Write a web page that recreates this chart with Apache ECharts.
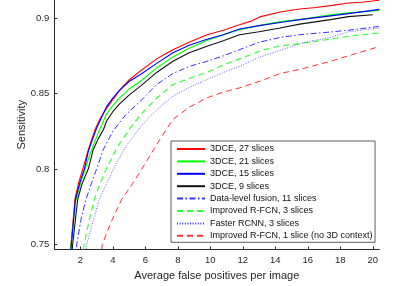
<!DOCTYPE html>
<html><head><meta charset="utf-8">
<script src="https://cdn.jsdelivr.net/npm/echarts@6/dist/echarts.min.js"></script>
<style>html,body{margin:0;padding:0;background:#fff}#c{width:419px;height:286px}</style>
</head><body><div id="c"></div>
<script>
const names = ["3DCE, 27 slices","3DCE, 21 slices","3DCE, 15 slices","3DCE, 9 slices","Data-level fusion, 11 slices","Improved R-FCN, 3 slices","Faster RCNN, 3 slices","Improved R-FCN, 1 slice (no 3D context)"];
const xTicks = [2,4,6,8,10,12,14,16,18,20];
const yTicks = [0.75,0.8,0.85,0.9];

const x27 = [1.33,1.43,1.67,1.9,2.15,2.5,2.9,3.25,3.6,4.0,4.4,5.0,5.7,6.2,6.7,7.2,7.7,8.7,9.8,10.8,11.8,12.5,13.1,14.3,15.5,16.5,17.4,18.5,19.3,20.4];
const y27 = [0.740,0.750,0.780,0.791,0.800,0.813,0.826,0.834,0.840,0.846,0.852,0.859,0.865,0.869,0.873,0.876,0.879,0.884,0.889,0.892,0.8956,0.898,0.901,0.904,0.906,0.907,0.9083,0.910,0.9105,0.9118];
const x21 = [1.33,1.43,1.7,2.0,2.3,2.6,3.1,3.6,4.0,4.4,5.0,5.7,6.7,7.7,8.7,9.8,10.8,11.8,13,14.3,15.5,17.4,18.5,20.4];
const y21 = [0.74,0.75,0.778,0.79,0.80,0.81,0.824,0.8362,0.842,0.847,0.853,0.8582,0.867,0.8743,0.880,0.8852,0.889,0.8923,0.895,0.8978,0.899,0.9022,0.9035,0.905];
const x15 = [1.35,1.45,1.7,2.0,2.25,2.5,3.0,3.6,4.0,4.4,5.0,5.7,6.7,7.7,8.7,9.8,10.8,11.8,13,14.3,15.5,17.4,18.5,20.4];
const y15 = [0.74,0.75,0.78,0.792,0.80,0.812,0.827,0.841,0.847,0.852,0.858,0.8626,0.870,0.877,0.882,0.886,0.889,0.8928,0.895,0.8971,0.899,0.9015,0.903,0.9058];
const x9 = [1.45,1.53,1.84,2.1,2.49,2.8,3.1,3.42,3.62,4.0,4.4,5.0,5.7,6.7,7.7,8.7,9.8,10.8,11.8,13,14.3,15.5,17.4,18.5,20.0];
const y9 = [0.74,0.75,0.78,0.79,0.80,0.813,0.82,0.826,0.8318,0.838,0.843,0.849,0.8549,0.864,0.8714,0.877,0.8813,0.885,0.889,0.891,0.8934,0.896,0.899,0.901,0.9022];
const xDL = [1.7,1.78,2.05,2.35,2.7,3.0,3.42,4.0,4.8,5.7,6.7,7.7,8.7,9.8,10.8,11.8,13,14.3,15.5,17.4,18.5,20.4];
const yDL = [0.74,0.75,0.767,0.78,0.791,0.80,0.813,0.825,0.836,0.845,0.856,0.8633,0.868,0.8714,0.875,0.8791,0.884,0.8872,0.889,0.8908,0.892,0.8945];
const xIR3 = [2.15,2.23,2.55,2.86,3.2,3.6,4.3,5.0,5.7,6.7,7.7,8.7,9.8,10.8,11.8,13,14.3,15.5,17.4,18.5,20.4];
const yIR3 = [0.74,0.75,0.766,0.78,0.79,0.80,0.815,0.826,0.836,0.847,0.856,0.860,0.8641,0.869,0.873,0.878,0.8817,0.883,0.8861,0.888,0.8902];
const xFR = [2.3,2.39,2.8,3.17,3.6,4.03,4.8,5.7,6.3,7.0,7.7,8.7,9.8,10.8,11.8,13,14.3,15.8,17.4,18.5,20.4];
const yFR = [0.74,0.75,0.766,0.78,0.79,0.80,0.815,0.828,0.835,0.842,0.8483,0.854,0.8593,0.864,0.8681,0.874,0.8786,0.884,0.8872,0.891,0.8935];
const xIR1 = [3.25,3.35,3.9,4.55,5.2,5.78,6.9,7.7,8.7,9.8,10.8,11.8,13,14.3,15.5,17.4,18.5,20.4];
const yIR1 = [0.74,0.75,0.765,0.78,0.79,0.80,0.8197,0.8329,0.841,0.8472,0.851,0.8538,0.858,0.8633,0.866,0.8714,0.875,0.8812];

const xs = [x27,x21,x15,x9,xDL,xIR3,xFR,xIR1];
const ys = [y27,y21,y15,y9,yDL,yIR3,yFR,yIR1];
const colors = ['#ff0000','#00ff00','#0000ff','#111111','#0000ff','#00ff00','#0000ff','#ff0000'];
const types = ['solid','solid','solid','solid',[6,2.5,1.5,2.5],[6,4],[1,1.6],[6,4]];
const widths = [1.1,1.1,1.1,1.1,1,1.1,0.8,1];

const series = names.map((n,i)=>({
  name:n, type:'line', symbol:'none', clip:true, smooth:false,
  data: xs[i].map((x,j)=>[x, ys[i][j]]),
  lineStyle:{color:colors[i], width:widths[i], type:types[i], opacity: i>=4?0.8:1},
  itemStyle:{color:colors[i]}
}));

const chart = echarts.init(document.getElementById('c'), null, {renderer:'canvas'});
const axisCol = '#262626';
const ff = 'Liberation Sans, Arial, sans-serif';
chart.setOption({
  animation:false,
  backgroundColor:'#fff',
  textStyle:{fontFamily:ff},
  grid:{left:54.3, top:0, width:325, height:250.7, containLabel:false},
  xAxis:{type:'value', min:0.4, max:20.4,
    name:'Average false positives per image', nameLocation:'middle', nameGap:20.5, nameMoveOverlap:false,
    nameTextStyle:{fontSize:11, color:axisCol, fontFamily:ff},
    axisLine:{show:true, onZero:false, lineStyle:{color:axisCol, width:1}},
    axisTick:{show:true, inside:true, length:3, customValues:xTicks, lineStyle:{color:axisCol}},
    axisLabel:{customValues:xTicks, fontSize:9.5, color:axisCol, margin:6, fontFamily:ff},
    splitLine:{show:false}},
  yAxis:{type:'value', min:0.7467, max:0.912,
    name:'Sensitivity', nameLocation:'middle', nameGap:27, nameRotate:90, nameMoveOverlap:false,
    nameTextStyle:{fontSize:11, color:axisCol, fontFamily:ff},
    axisLine:{show:true, onZero:false, lineStyle:{color:axisCol, width:1}},
    axisTick:{show:true, inside:true, length:3, customValues:yTicks, lineStyle:{color:axisCol}},
    axisLabel:{customValues:yTicks, fontSize:9.5, color:axisCol, margin:5, fontFamily:ff},
    splitLine:{show:false}},
  legend:{orient:'vertical', left:171, top:141, data:names,
    itemWidth:28, itemHeight:8, itemGap:0.4,
    padding:[2,2.5,0.5,5],
    backgroundColor:'#fff', borderColor:'#333', borderWidth:0.8,
    selectedMode:false,
    itemStyle:{opacity:0},
    textStyle:{fontSize:9, lineHeight:12, color:'#111', fontFamily:ff}},
  series: series
});
</script></body></html>
